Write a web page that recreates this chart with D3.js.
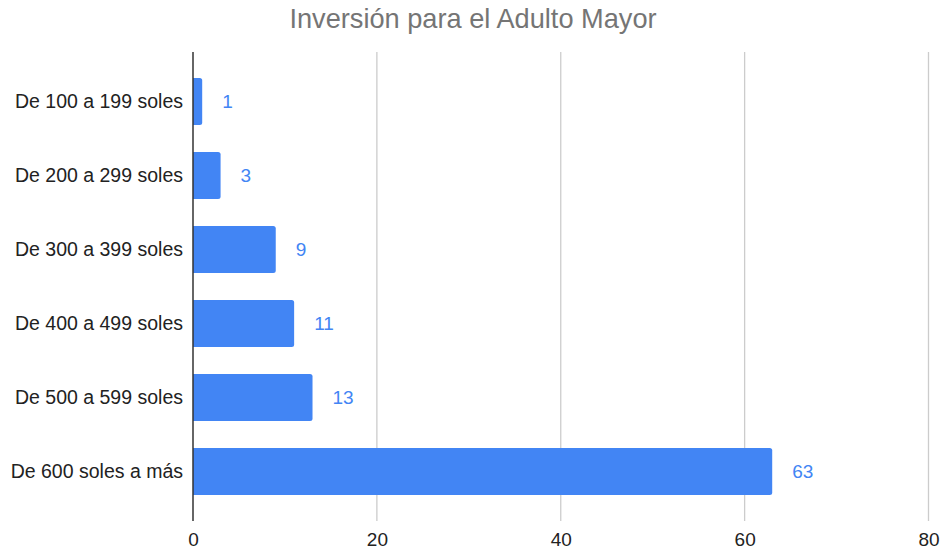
<!DOCTYPE html>
<html><head><meta charset="utf-8">
<script src="https://cdn.jsdelivr.net/npm/d3@7"></script>
<style>body{margin:0;background:#fff}svg{display:block}</style>
</head><body><svg id="c" width="942" height="551"></svg>
<script>
const title = "Inversión para el Adulto Mayor";
const categories = ["De 100 a 199 soles","De 200 a 299 soles","De 300 a 399 soles","De 400 a 499 soles","De 500 a 599 soles","De 600 soles a más"];
const values = [1, 3, 9, 11, 13, 63];
const xTicks = [0, 20, 40, 60, 80];

const svg = d3.select("#c");
const font = "'Liberation Sans', Arial, sans-serif";
const x = d3.scaleLinear().domain([0, 80]).range([193, 928.5]);
const y = d3.scaleBand().domain(categories).range([52, 521]).paddingInner(0.365).paddingOuter(0.35);

svg.append("text").attr("x", 473).attr("y", 28).attr("text-anchor", "middle")
  .attr("font-family", font).attr("font-size", 27.2).attr("fill", "#757575").text(title);

// gridlines
svg.append("g").selectAll("line").data(xTicks.filter(d => d !== 0)).join("line")
  .attr("x1", d => x(d)).attr("x2", d => x(d)).attr("y1", 52).attr("y2", 521)
  .attr("stroke", "#cccccc").attr("stroke-width", 1.3);

// bars with rounded right end
const r = 2.5;
svg.append("g").selectAll("path").data(values).join("path")
  .attr("fill", "#4285F4")
  .attr("d", (d, i) => {
    const x0 = x(0), x1 = x(d), y0 = y(categories[i]), h = y.bandwidth();
    const rr = Math.min(r, (x1 - x0) / 2);
    return `M${x0},${y0}H${x1 - rr}Q${x1},${y0} ${x1},${y0 + rr}V${y0 + h - rr}Q${x1},${y0 + h} ${x1 - rr},${y0 + h}H${x0}Z`;
  });

// axis line at 0
svg.append("line").attr("x1", x(0)).attr("x2", x(0)).attr("y1", 52).attr("y2", 521)
  .attr("stroke", "#333333").attr("stroke-width", 1.5);

// value labels
svg.append("g").selectAll("text").data(values).join("text")
  .attr("x", d => x(d) + 20).attr("y", (d, i) => y(categories[i]) + y.bandwidth() / 2)
  .attr("dy", "0.35em").attr("font-family", font).attr("font-size", 19).attr("fill", "#4285F4")
  .text(d => d);

// category labels
const yAxis = d3.axisLeft(y).tickSize(0).tickPadding(10);
const ya = svg.append("g").attr("transform", `translate(${x(0)},0)`).call(yAxis);
ya.select(".domain").remove();
ya.selectAll("text").attr("font-family", font).attr("font-size", 19.5).attr("fill", "#222222");

// x axis tick labels
const xAxis = d3.axisBottom(x).tickValues(xTicks).tickSize(0).tickPadding(12);
const xa = svg.append("g").attr("transform", `translate(0,521)`).call(xAxis);
xa.select(".domain").remove();
xa.selectAll("text").attr("font-family", font).attr("font-size", 19).attr("fill", "#222222");
</script></body></html>
